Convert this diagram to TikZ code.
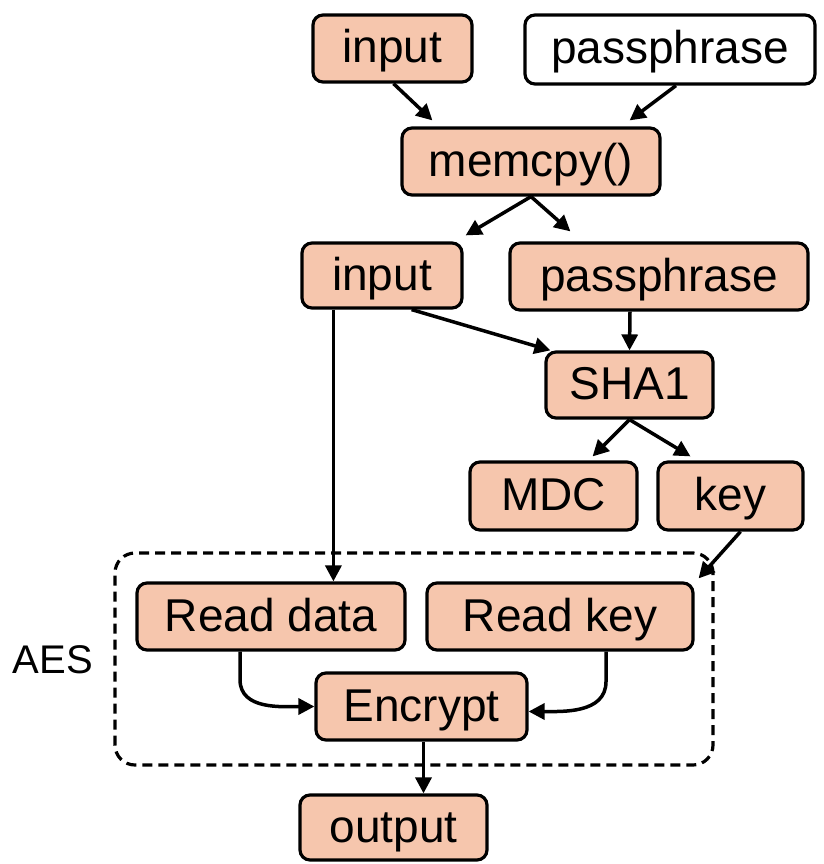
\documentclass[tikz,border=0pt]{standalone}
\usepackage{fontspec}
\setmainfont{Liberation Sans}
\usetikzlibrary{arrows.meta,calc}
\definecolor{peach}{HTML}{F6C6AD}
\begin{document}
\begin{tikzpicture}[x=1pt,y=-1pt,
  box/.style={draw=black,line width=3.2pt,rounded corners=10pt,fill=peach,
    inner sep=0pt,text height=38pt,text depth=9pt,
    font=\fontsize{46}{50}\selectfont,text=black},
  plain/.style={box,fill=white},
  link/.style={line width=3.5pt,-{Triangle[length=16pt,width=16pt]}},
]
\useasboundingbox (0,0) rectangle (823,864);

% top row
\node[box,minimum width=159pt,minimum height=67pt] (in1) at (392.5,48.5) {input};
\node[plain,minimum width=290pt,minimum height=69pt] (pw1) at (670,49.5) {passphrase};
\node[box,minimum width=258pt,minimum height=67pt] (mc) at (531,161.5) {memcpy()};

% copies
\node[box,minimum width=160pt,minimum height=65pt] (in2) at (382,275.5) {input};
\node[box,minimum width=298pt,minimum height=67pt] (pw2) at (659,276.5) {passphrase};

% hashing
\node[box,minimum width=167pt,minimum height=66pt] (sha) at (629.5,385) {SHA1};
\node[box,minimum width=167pt,minimum height=68pt] (mdc) at (553.5,496) {MDC};
\node[box,minimum width=145pt,minimum height=68pt] (key) at (730.5,496) {key};

% AES block
\node[draw=black,line width=3.2pt,dash pattern=on 10pt off 6pt,rounded corners=20pt,
  minimum width=598pt,minimum height=212pt,inner sep=0pt] (aes) at (414,659) {};
\node[font=\fontsize{40}{44}\selectfont] (aeslbl) at (53,660) {AES};
\node[box,minimum width=268pt,minimum height=67pt] (rd) at (271,616.5) {Read data};
\node[box,minimum width=266pt,minimum height=67pt] (rk) at (560,616.5) {Read key};
\node[box,minimum width=211pt,minimum height=67pt] (enc) at (421.5,706.5) {Encrypt};

\node[box,minimum width=187pt,minimum height=65pt] (out) at (393.5,827.5) {output};

% connectors
\draw[link] ([xshift=1pt]in1.south) -- ($(mc.north west)+(32,-6)$);
\draw[link] ([xshift=6pt]pw1.south) -- ($(mc.north east)+(-32,-6)$);
\draw[link] (mc.south) -- ($(in2.north east)+(2,-6)$);
\draw[link] (mc.south) -- ($(pw2.north west)+(62,-10)$);
\draw[link] ($(in2.south east)+(-52,0)$) -- ($(sha.north west)+(6,0)$);
\draw[link] ($(pw2.south)+(-29,0)$) -- ($(sha.north)+(0,0)$);
\draw[link] (sha.south) -- ($(mdc.north east)+(-46,-4)$);
\draw[link] (sha.south) -- ($(key.north)+(-40,-4)$);
\draw[link] ($(key.south)+(10,0)$) -- ($(rk.north east)+(4,-3)$);
\draw[link] ($(in2.south west)+(33,0)$) -- ($(rd.north west)+(198,0)$);
\draw[link] ($(rd.south)+(-31,0)$) -- ++(0,28) to[out=-90,in=180] (enc.west);
\draw[link] ($(rk.south)+(46,0)$) -- ++(0,30) to[out=-90,in=0] ($(enc.east)+(0,5)$);
\coordinate (encfoot) at ($(enc.south)+(2,0)$);
\draw[link] (encfoot) -- (encfoot |- out.north);
\end{tikzpicture}
\end{document}
